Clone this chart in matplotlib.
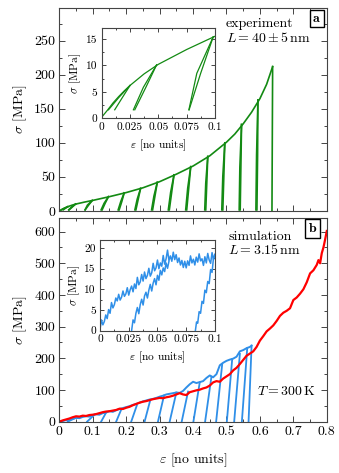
import matplotlib
matplotlib.use("Agg")
import matplotlib.pyplot as plt
from matplotlib.ticker import MultipleLocator, FuncFormatter

plt.rcParams["font.family"] = "serif"
plt.rcParams["font.serif"] = ["cmr10"]
plt.rcParams["mathtext.fontset"] = "cm"
plt.rcParams["axes.formatter.use_mathtext"] = True

GREEN = "#138a13"
BLUE = "#2f8fe8"
RED = "#ff0000"

# ---- experiment (panel a) ----
env_e = [0, 0.005, 0.01, 0.015, 0.02, 0.025, 0.0375, 0.05, 0.075, 0.1, 0.15, 0.2,
         0.25, 0.3, 0.35, 0.4, 0.45, 0.5, 0.525, 0.55, 0.575, 0.6, 0.62, 0.638]
env_s = [0.2, 1.5, 2.9, 4.1, 5.2, 6.2, 8.4, 10.2, 13.0, 15.5, 21, 27,
         34, 43, 54, 66, 81, 101, 113, 128, 145, 165, 186, 212]
fracture_e = 0.636

cyc_peak_e = [0.025, 0.0485, 0.0985, 0.147, 0.194, 0.243, 0.293, 0.343, 0.393, 0.444, 0.495, 0.545, 0.594]
cyc_peak_s = [6.2, 10.1, 15.4, 21, 26.5, 33, 42, 53, 65, 80, 100, 127, 163]
cyc_unload_e = [0.006, 0.028, 0.077, 0.125, 0.176, 0.226, 0.276, 0.326, 0.378, 0.435, 0.486, 0.538, 0.588]
cyc_umid_e = [0.0150, 0.0368, 0.0840, 0.134, 0.184, 0.233, 0.283, 0.333, 0.384, 0.438, 0.489, 0.540, 0.590]
cyc_reload_e = [0.0115, 0.0292, 0.0772, 0.128, 0.179, 0.229, 0.279, 0.329, 0.381, 0.438, 0.489, 0.541, 0.591]
cyc_rmid_e = [0.0182, 0.0390, 0.0874, 0.137, 0.187, 0.236, 0.286, 0.336, 0.387, 0.441, 0.492, 0.543, 0.593]
cyc_base_s = 1.6

# ---- simulation (panel b) ----
red_e = [0.00, 0.01, 0.02, 0.03, 0.04, 0.05, 0.06, 0.07, 0.08, 0.09, 0.10, 0.11, 0.12, 0.13,
         0.14, 0.15, 0.16, 0.17, 0.18, 0.19, 0.20, 0.21, 0.22, 0.23, 0.24, 0.25, 0.26, 0.27,
         0.28, 0.29, 0.30, 0.31, 0.32, 0.33, 0.34, 0.35, 0.36, 0.37, 0.38, 0.39, 0.40, 0.41,
         0.42, 0.43, 0.44, 0.45, 0.46, 0.47, 0.48, 0.49, 0.50, 0.51, 0.52, 0.53, 0.54, 0.55,
         0.56, 0.57, 0.58, 0.59, 0.60, 0.61, 0.62, 0.63, 0.64, 0.65, 0.66, 0.67, 0.68, 0.69,
         0.70, 0.71, 0.72, 0.73, 0.74, 0.75, 0.76, 0.77, 0.775, 0.78, 0.785, 0.79, 0.795, 0.80]
red_s = [0, 4, 7, 10, 14, 17, 16, 19, 18, 21, 22, 24, 27, 30,
         32, 33, 35, 37, 41, 40, 44, 47, 52, 56, 60, 63, 65, 68,
         71, 73, 75, 74, 77, 79, 82, 86, 90, 86, 84, 93, 96, 99,
         101, 105, 108, 114, 124, 128, 126, 136, 143, 150, 162, 170, 182, 195,
         208, 215, 222, 236, 256, 270, 285, 294, 304, 318, 334, 344, 350, 358,
         384, 392, 404, 418, 440, 468, 478, 495, 510, 500, 532, 550, 575, 602]

blue_e = [0.00, 0.01, 0.02, 0.03, 0.04, 0.05, 0.06, 0.07, 0.08, 0.09, 0.10, 0.11, 0.12, 0.13,
          0.14, 0.15, 0.16, 0.17, 0.18, 0.19, 0.20, 0.21, 0.22, 0.23, 0.24, 0.25, 0.26, 0.27,
          0.28, 0.29, 0.30, 0.31, 0.32, 0.33, 0.34, 0.35, 0.36, 0.37, 0.38, 0.39, 0.40, 0.41,
          0.42, 0.43, 0.44, 0.45, 0.46, 0.47, 0.48, 0.49, 0.50, 0.51, 0.52, 0.53, 0.54, 0.55,
          0.56, 0.57, 0.575]
blue_s = [0, 2, 5, 6, 9, 12, 11, 15, 17, 16, 21, 23, 22, 27,
          29, 33, 31, 36, 40, 43, 46, 49, 53, 56, 60, 64, 67, 70,
          72, 75, 79, 82, 86, 88, 90, 92, 91, 97, 108, 118, 126, 122,
          125, 128, 138, 146, 140, 150, 178, 186, 192, 196, 199, 205, 222, 226,
          232, 236, 240]

reload_e = [0.025, 0.083, 0.125, 0.17, 0.215, 0.255, 0.295, 0.33, 0.366, 0.401, 0.436,
            0.469, 0.501, 0.523, 0.546, 0.566]
reload_top_e = [0.055, 0.105, 0.14, 0.185, 0.232, 0.272, 0.313, 0.35, 0.385, 0.42, 0.455,
                0.487, 0.517, 0.54, 0.562, 0.575]
reload_top_s = [15, 22, 29, 38, 52, 68, 82, 92, 95, 124, 142, 180, 197, 214, 232, 240]

# inset of panel b (strain step 0.00125)
in1_e = [i * 0.00125 for i in range(81)]
in1_s = [0.3, 2.6, 1.4, 2.2, 3.8, 2.9, 5.1, 4.2, 6.8, 5.5,
         6.3, 7.9, 7.2, 8.8, 7.4, 8.1, 9.6, 8.3, 8.9, 10.4,
         8.6, 9.9, 10.8, 9.4, 11.3, 10.2, 12.9, 11.1, 11.8, 13.6,
         12.0, 14.2, 12.6, 13.4, 15.1, 13.2, 14.0, 16.3, 14.5, 15.2,
         17.1, 15.0, 16.4, 15.6, 18.2, 16.1, 17.4, 19.5, 17.0, 18.1,
         16.8, 19.0, 17.2, 18.4, 16.5, 17.6, 15.9, 17.0, 15.3, 16.8,
         15.2, 16.9, 15.8, 18.1, 16.4, 17.3, 15.9, 17.8, 16.6, 18.6,
         16.9, 17.4, 15.8, 17.9, 16.4, 18.7, 17.1, 16.3, 18.9, 17.2,
         18.4]
in2_e = [0.0275, 0.02875, 0.03, 0.03125, 0.0325, 0.03375, 0.035, 0.03625, 0.0375, 0.03875,
         0.04, 0.04125, 0.0425, 0.04375, 0.045, 0.04625, 0.0475, 0.04875, 0.05, 0.05125,
         0.0525, 0.05375, 0.055, 0.05625, 0.0575, 0.05875, 0.06]
in2_s = [0, 2.6, 1.9, 4.2, 5.6, 4.1, 6.3, 7.6, 6.2, 8.4, 9.3, 7.9, 9.8, 11.2,
         9.6, 11.5, 12.6, 11.1, 13.4, 12.2, 14.6, 13.5, 15.2, 14.3, 16.4, 15.1, 16.8]
in3_e = [0.083, 0.084, 0.085, 0.08625, 0.0875, 0.08875, 0.09, 0.09125, 0.0925, 0.09375,
         0.095, 0.09625, 0.0975, 0.09875, 0.1]
in3_s = [0, 2.1, 1.8, 4.6, 4.2, 7.1, 6.6, 9.8, 9.2, 11.9, 11.4, 14.8, 14.1, 17.6, 18.5]

fmt = FuncFormatter(lambda v, p: f"{v:g}")


def style(ax, xmaj, xmin, ymaj, ymin, size, tl):
    ax.xaxis.set_major_locator(MultipleLocator(xmaj))
    ax.xaxis.set_minor_locator(MultipleLocator(xmin))
    ax.yaxis.set_major_locator(MultipleLocator(ymaj))
    ax.yaxis.set_minor_locator(MultipleLocator(ymin))
    ax.xaxis.set_major_formatter(fmt)
    ax.yaxis.set_major_formatter(fmt)
    ax.tick_params(which="both", direction="in", top=True, right=True,
                   labelsize=size, color="#444444", width=0.7, pad=3)
    ax.tick_params(which="major", length=tl)
    ax.tick_params(which="minor", length=tl * 0.6)
    for s in ax.spines.values():
        s.set_color("#444444")
        s.set_linewidth(0.8)


def draw_experiment(ax, lw):
    ax.plot(env_e, env_s, color=GREEN, lw=lw)
    ax.plot([env_e[-1], fracture_e], [env_s[-1], 0], color=GREEN, lw=lw)
    for i in range(len(cyc_peak_e)):
        mid = (cyc_peak_s[i] + cyc_base_s) / 2
        ax.plot([cyc_peak_e[i], cyc_umid_e[i], cyc_unload_e[i]],
                [cyc_peak_s[i], mid, cyc_base_s], color=GREEN, lw=lw)
        ax.plot([cyc_reload_e[i], cyc_rmid_e[i], cyc_peak_e[i]],
                [cyc_base_s, mid, cyc_peak_s[i]], color=GREEN, lw=lw)


FS = 10
FSI = 8.2
fig = plt.figure(figsize=(3.39, 4.73), dpi=100)
box = dict(boxstyle="square,pad=0.2", fc="white", ec="black", lw=1.0)

# panel a
ax_a = fig.add_axes([0.175, 0.554, 0.789, 0.429])
draw_experiment(ax_a, 1.2)
ax_a.set_xlim(0, 0.8)
ax_a.set_ylim(0, 298)
style(ax_a, 0.1, 0.05, 50, 25, FS, 4)
ax_a.tick_params(labelbottom=False)
ax_a.set_ylabel(r"$\sigma$ [MPa]", fontsize=FS, labelpad=4)
ax_a.text(0.623, 0.924, "experiment", transform=ax_a.transAxes, fontsize=FS, va="center")
ax_a.text(0.623, 0.851, r"$L = 40 \pm 5\,\mathrm{nm}$", transform=ax_a.transAxes,
          fontsize=FS, va="center")
ax_a.text(0.962, 0.948, r"$\mathbf{a}$", transform=ax_a.transAxes, fontsize=FS,
          ha="center", va="center", bbox=box)

ins_a = fig.add_axes([0.300, 0.750, 0.334, 0.190])
draw_experiment(ins_a, 0.9)
ins_a.set_xlim(0, 0.1)
ins_a.set_ylim(0, 17)
style(ins_a, 0.025, 0.0125, 5, 2.5, FSI, 3)
ins_a.set_xlabel(r"$\varepsilon$ [no units]", fontsize=FSI, labelpad=4)
ins_a.set_ylabel(r"$\sigma$ [MPa]", fontsize=FSI, labelpad=2)

# panel b
ax_b = fig.add_axes([0.175, 0.1085, 0.789, 0.430])
ax_b.plot(blue_e, blue_s, color=BLUE, lw=1.4)
for i in range(len(reload_e)):
    ax_b.plot([reload_e[i], reload_top_e[i]], [0, reload_top_s[i]], color=BLUE, lw=1.3)
ax_b.plot(red_e, red_s, color=RED, lw=1.6)
ax_b.set_xlim(0, 0.8)
ax_b.set_ylim(0, 642)
style(ax_b, 0.1, 0.05, 100, 50, FS, 4)
ax_b.set_xlabel(r"$\varepsilon$ [no units]", fontsize=FS, labelpad=10)
ax_b.set_ylabel(r"$\sigma$ [MPa]", fontsize=FS, labelpad=4)
ax_b.text(0.632, 0.91, "simulation", transform=ax_b.transAxes, fontsize=FS, va="center")
ax_b.text(0.632, 0.844, r"$L = 3.15\,\mathrm{nm}$", transform=ax_b.transAxes,
          fontsize=FS, va="center")
ax_b.text(0.738, 0.1475, r"$T = 300\,\mathrm{K}$", transform=ax_b.transAxes,
          fontsize=FS, va="center")
ax_b.text(0.947, 0.95, r"$\mathbf{b}$", transform=ax_b.transAxes, fontsize=FS,
          ha="center", va="center", bbox=box)

ins_b = fig.add_axes([0.295, 0.301, 0.339, 0.192])
ins_b.plot(in1_e, in1_s, color=BLUE, lw=1.1)
ins_b.plot(in2_e, in2_s, color=BLUE, lw=1.1)
ins_b.plot(in3_e, in3_s, color=BLUE, lw=1.1)
ins_b.set_xlim(0, 0.1)
ins_b.set_ylim(0, 22)
style(ins_b, 0.025, 0.0125, 5, 2.5, FSI, 3)
ins_b.set_xlabel(r"$\varepsilon$ [no units]", fontsize=FSI, labelpad=4)
ins_b.set_ylabel(r"$\sigma$ [MPa]", fontsize=FSI, labelpad=2)

fig.savefig("out.png", dpi=100)
